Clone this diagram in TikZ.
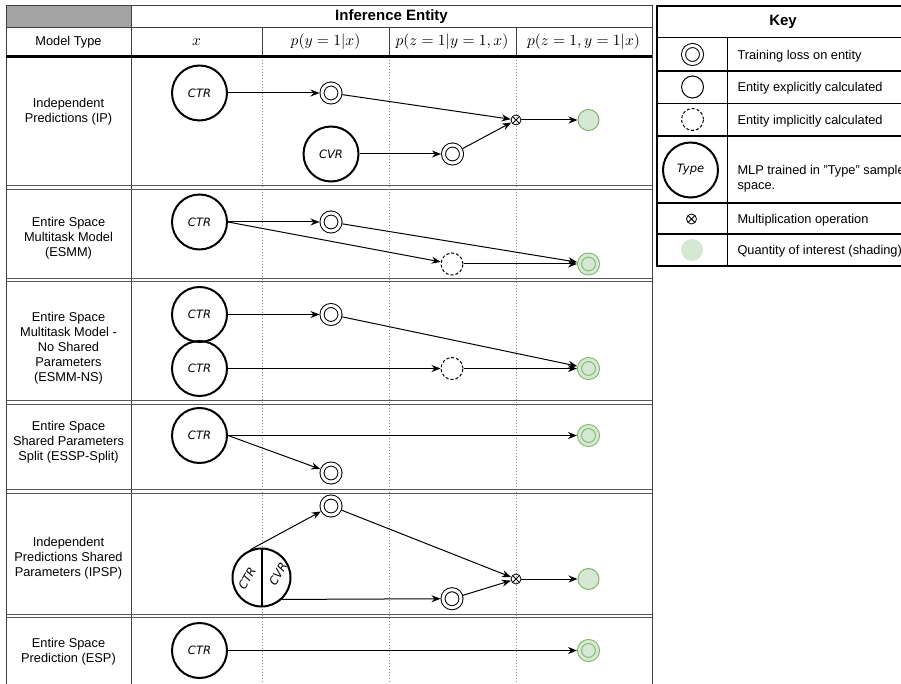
\documentclass[tikz,border=0pt]{standalone}
\usepackage{amsmath}
\usepackage{fontspec}
\setmainfont{Liberation Sans}
\newfontfamily\mlpfont{DejaVu Sans}
\usetikzlibrary{arrows.meta}
\definecolor{qfill}{HTML}{D5E8D4}
\definecolor{qline}{HTML}{82B366}
\definecolor{hdrgray}{HTML}{A3A3A3}
\newcommand{\mathlabel}[1]{\scalebox{1.55}{\fontsize{10}{12}\selectfont$#1$}}

\begin{document}
\begin{tikzpicture}
        [x=1pt,y=-1pt,line width=1pt,>={Stealth[length=9pt,width=7pt]},
        every node/.style={inner sep=0pt,align=center,font=\fontsize{12.8}{15}\selectfont},
        title/.style={font=\bfseries\fontsize{15}{18}\selectfont},
        grid/.style={draw=black!75,line width=1pt},
        sep/.style={draw=black!65,line width=1pt},
        guide/.style={draw=black!45,line width=1pt,dash pattern=on 1pt off 2pt},
        mlp/.style={circle,draw,line width=2pt,minimum size=55pt,font=\mlpfont\itshape\fontsize{11.5}{13}\selectfont},
        half/.style={rotate=60,font=\mlpfont\itshape\fontsize{11.5}{13}\selectfont},
        loss/.style={circle,draw,double,double distance=3pt,minimum size=18pt,outer sep=2.5pt},
        expl/.style={circle,draw,minimum size=22pt},
        impl/.style={circle,draw,dash pattern=on 3pt off 2pt,minimum size=22pt},
        mult/.style={circle,draw,line width=0.8pt,minimum size=10pt,path picture={\draw[line width=0.8pt] (path picture bounding box.north west) -- (path picture bounding box.south east) (path picture bounding box.north east) -- (path picture bounding box.south west);}},
        quant/.style={circle,draw=qline,fill=qfill,minimum size=21pt},
        quantloss/.style={loss,draw=qline,fill=qfill,double=qfill},
        keyq/.style={circle,fill=qfill,minimum size=22pt}]
        \useasboundingbox (0,0) rectangle (901,684);

        % table
        \fill[hdrgray] (6,5.5) rectangle (131,27.5);
        \draw[grid] (6,5.5) -- (652,5.5);
        \draw[grid] (6,27.5) -- (652,27.5);
        \draw[grid] (6,5.5) -- (6,684);
        \draw[grid] (652,5.5) -- (652,684);
        \draw[grid] (131,5.5) -- (131,684);
        \foreach \x in {262,389,516}
            \draw[grid] (\x,27.5) -- (\x,57);
        \foreach \x in {262,389,516}
            \draw[guide] (\x,57) -- (\x,684);
        \foreach \y in {186,278.5,400.5,489.5,614}
            \draw[sep] (6,\y) -- (652,\y) (6,\y+3.5) -- (652,\y+3.5);
        \draw[line width=3pt] (6,57) -- (652,57);

        \node[title] (hie) at (391.5,16.5) {Inference Entity};
        \node (hmt) at (68.5,42) {Model Type};
        \node (hx) at (196.5,42) {\mathlabel{x}};
        \node (hy) at (325.5,42) {\mathlabel{p(y=1|x)}};
        \node (hz) at (452,42) {\mathlabel{p(z=1|y=1,x)}};
        \node (hq) at (583.5,42) {\mathlabel{p(z=1,y=1|x)}};

        \node (r1) at (68.5,111.5) {Independent\\Predictions (IP)};
        \node (r2) at (68.5,238.5) {Entire Space\\Multitask Model\\(ESMM)};
        \node (r3) at (68.5,348.5) {Entire Space\\Multitask Model -\\No Shared\\Parameters\\(ESMM-NS)};
        \node (r4) at (68.5,442.5) {Entire Space\\Shared Parameters\\Split (ESSP-Split)};
        \node (r5) at (68.5,558.5) {Independent\\Predictions Shared\\Parameters (IPSP)};
        \node (r6) at (68.5,652) {Entire Space\\Prediction (ESP)};

        % IP
        \node[mlp] (ctr1) at (199.5,93) {CTR};
        \node[loss] (y1) at (331,93) {};
        \node[mlp] (cvr1) at (331,154) {CVR};
        \node[loss] (z1) at (452.5,154) {};
        \node[mult] (m1) at (516,120) {};
        \node[quant] (q1) at (588.5,120) {};
        \path [->] (ctr1) edge (y1);
        \path [->] (y1) edge (m1);
        \path [->] (cvr1) edge (z1);
        \path [->] (z1) edge (m1);
        \path [->] (m1) edge (q1);

        % ESMM
        \node[mlp] (ctr2) at (199.5,222) {CTR};
        \node[loss] (y2) at (331,222) {};
        \node[impl] (z2) at (452,264) {};
        \node[quantloss] (q2) at (588.5,264) {};
        \path [->] (ctr2) edge (y2);
        \path [->] (ctr2.east) edge (z2);
        \path [->] (y2) edge (q2);
        \path [->] (z2) edge (q2);

        % ESMM-NS
        \node[mlp] (ctr3a) at (199.5,314.5) {CTR};
        \node[mlp] (ctr3b) at (199.5,368.5) {CTR};
        \node[loss] (y3) at (331,314.5) {};
        \node[impl] (z3) at (452,368.5) {};
        \node[quantloss] (q3) at (588.5,368.5) {};
        \path [->] (ctr3a) edge (y3);
        \path [->] (y3) edge (q3);
        \path [->] (ctr3b) edge (z3);
        \path [->] (z3) edge (q3);

        % ESSP-Split
        \node[mlp] (ctr4) at (199.5,435.5) {CTR};
        \node[quantloss] (q4) at (588.5,435.5) {};
        \node[loss] (y4) at (331,473) {};
        \path [->] (ctr4) edge (q4);
        \path [->] (ctr4.east) edge (y4);

        % IPSP
        \node[mlp,minimum size=58pt,path picture={\draw[line width=2pt] (path picture bounding box.north) -- (path picture bounding box.south);}] (sp5) at (261.5,577.5) {};
        \node[half] (sp5ctr) at (247,578) {CTR};
        \node[half] (sp5cvr) at (278,574) {CVR};
        \node[loss] (y5) at (331,506) {};
        \node[loss] (z5) at (452,598.7) {};
        \node[mult] (m5) at (516,579) {};
        \node[quant] (q5) at (588.5,579) {};
        \path [->] (sp5.112) edge (y5);
        \path [->] (y5) edge (m5);
        \path [->] (sp5.-47) edge (z5);
        \path [->] (z5) edge (m5);
        \path [->] (m5) edge (q5);

        % ESP
        \node[mlp] (ctr6) at (199.5,650.5) {CTR};
        \node[quantloss] (q6) at (588.5,650.5) {};
        \path [->] (ctr6) edge (q6);

        % key
        \draw[line width=2pt] (657,6) rectangle (909,266);
        \foreach \y in {37.5,71,103.5,136,203,234}
            \draw[line width=1.2pt] (657,\y) -- (909,\y);
        \draw[line width=1.2pt] (727.5,37.5) -- (727.5,266);
        \node[title] (key) at (783,21.5) {Key};
        \node[loss] (k1) at (692.5,54.5) {};
        \node[expl] (k2) at (692.5,87) {};
        \node[impl] (k3) at (692.5,119.5) {};
        \node[mlp] (k4) at (690.5,170) {Type};
        \node[mult] (k5) at (691.5,219) {};
        \node[keyq] (k6) at (692,250) {};
        \node[anchor=west] (t1) at (737,56) {Training loss on entity};
        \node[anchor=west] (t2) at (737,88.5) {Entity explicitly calculated};
        \node[anchor=west] (t3) at (737,121) {Entity implicitly calculated};
        \node[anchor=west,align=left] (t4) at (737,179) {MLP trained in "Type" sample\\space.};
        \node[anchor=west] (t5) at (737,220.5) {Multiplication operation};
        \node[anchor=west] (t6) at (737,251.5) {Quantity of interest (shading)};

    \end{tikzpicture}
\end{document}
